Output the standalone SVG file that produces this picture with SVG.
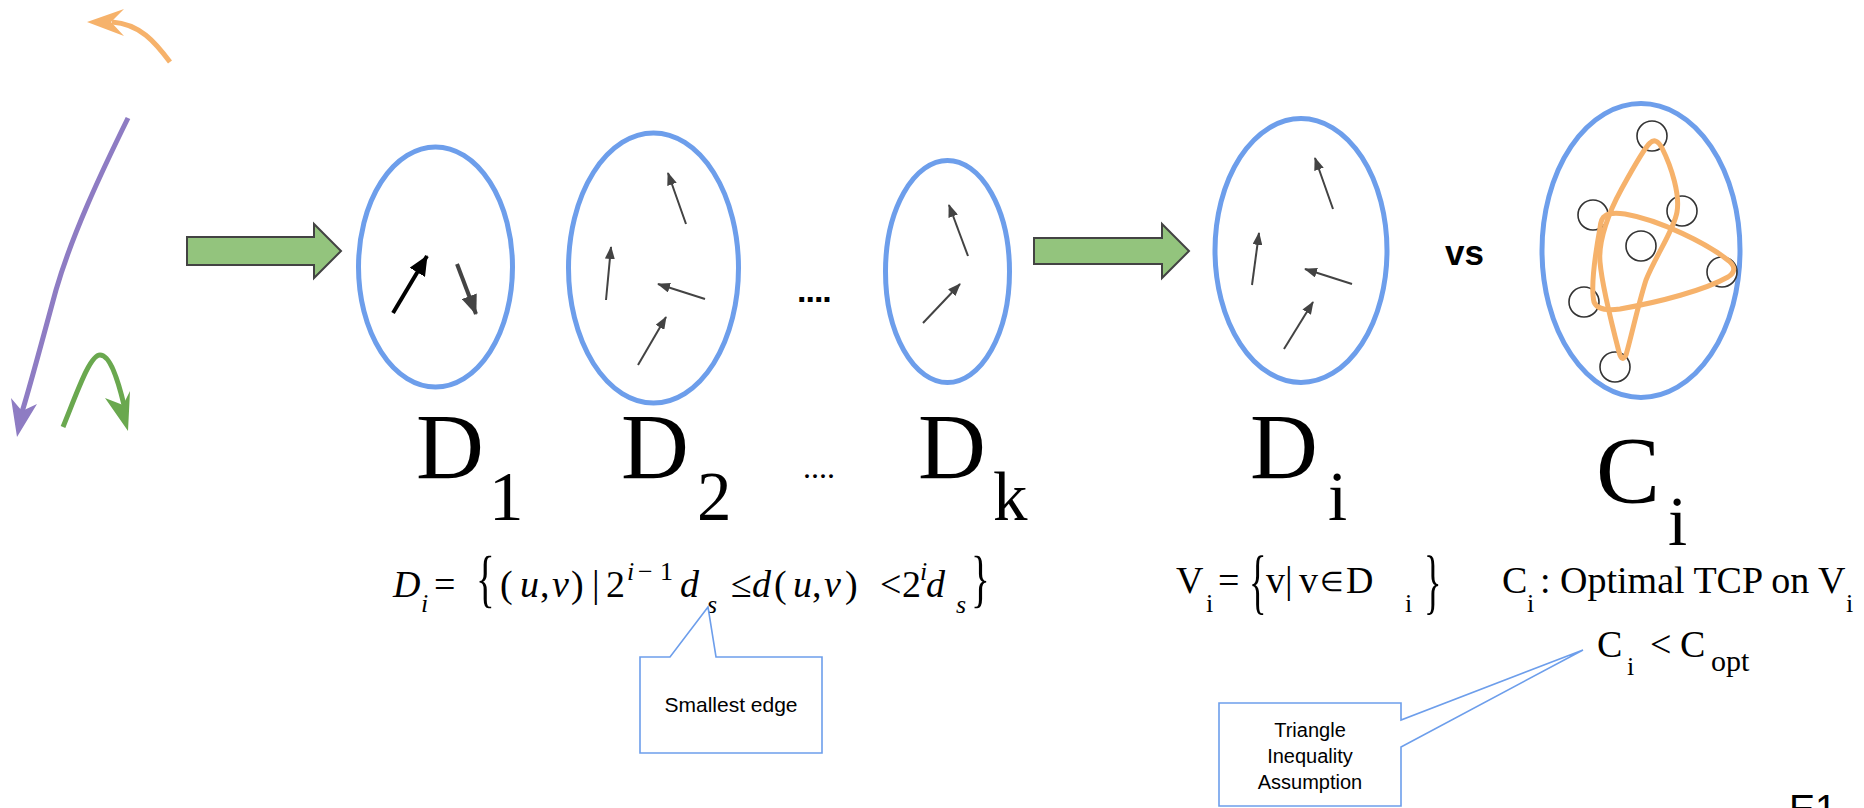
<svg xmlns="http://www.w3.org/2000/svg" width="1864" height="808" viewBox="0 0 1864 808">
<style>
.ell{fill:none;stroke:#6d9eeb;stroke-width:5}
.blk{fill:#93c47d;stroke:#434343;stroke-width:2;stroke-linejoin:miter}
.ar{stroke:#434343;stroke-width:2;fill:none;marker-end:url(#ah)}
.arb{stroke-width:4;fill:none}
.node{fill:none;stroke:#333;stroke-width:1.6}
.tour{fill:none;stroke:#f6b26b;stroke-width:5;stroke-linejoin:round}
.ser{font-family:"Liberation Serif","Times New Roman",serif;fill:#000}
.big{font-size:94px}
.sub{font-size:69px}
.m{font-size:38px}
.s{font-size:26px}
.it{font-style:italic}
.sans{font-family:"Liberation Sans",Arial,sans-serif;fill:#000}
.call{fill:#fff;stroke:#6d9eeb;stroke-width:1.6}
</style>
<defs>
<marker id="ah" markerUnits="userSpaceOnUse" markerWidth="13" markerHeight="10" refX="12" refY="5" orient="auto"><path d="M0,0 L13,5 L0,10 Z" fill="#434343"/></marker>
<marker id="ahk" markerUnits="userSpaceOnUse" markerWidth="20" markerHeight="18" refX="19" refY="9" orient="auto"><path d="M0,0 L20,9 L0,18 Z" fill="#000"/></marker>
<marker id="ahg" markerUnits="userSpaceOnUse" markerWidth="20" markerHeight="16" refX="19" refY="8" orient="auto"><path d="M0,0 L20,8 L0,16 Z" fill="#434343"/></marker>
</defs>
<rect width="1864" height="808" fill="#fff"/>

<g id="scribbles">
<path d="M170,62 C155,42 140,24 112,22" fill="none" stroke="#f6b26b" stroke-width="5"/>
<polygon points="87,22 124,9 111,22 124,36" fill="#f6b26b"/>
<path d="M128,118 C100,175 72,235 56,290 C41,345 29,390 22,412" fill="none" stroke="#8e7cc3" stroke-width="5"/>
<polygon points="17,437 11,398 22,411 37,404" fill="#8e7cc3"/>
<path d="M63,427 C78,390 90,355 100,355 C110,355 118,380 124,405" fill="none" stroke="#6aa84f" stroke-width="5"/>
<polygon points="128,431 105,398 123,405 130,391" fill="#6aa84f"/>
</g>

<g id="D1">
<ellipse class="ell" cx="435.5" cy="267" rx="77" ry="120"/>
<line x1="393" y1="313" x2="427" y2="256" class="arb" stroke="#000" marker-end="url(#ahk)"/>
<line x1="457" y1="264" x2="476" y2="314" class="arb" stroke="#434343" marker-end="url(#ahg)"/>
<text class="ser big" x="416" y="478">D</text>
<text class="ser sub" x="489" y="520">1</text>
</g>

<g id="D2">
<ellipse class="ell" cx="653.5" cy="268" rx="85" ry="135"/>
<line class="ar" x1="606" y1="300" x2="611" y2="247"/>
<line class="ar" x1="686" y1="224" x2="668" y2="173"/>
<line class="ar" x1="705" y1="299" x2="658" y2="284"/>
<line class="ar" x1="638" y1="365" x2="666" y2="317"/>
<text class="ser big" x="621" y="478">D</text>
<text class="ser sub" x="697" y="520">2</text>
</g>

<g id="ellipsis">
<text class="sans" x="797" y="302" font-size="34" font-weight="bold" letter-spacing="-1">....</text>
<text class="ser" x="803" y="478" font-size="32">....</text>
</g>

<g id="Dk">
<ellipse class="ell" cx="947.5" cy="271.5" rx="62" ry="111"/>
<line class="ar" x1="968" y1="256" x2="949" y2="205"/>
<line class="ar" x1="923" y1="323" x2="960" y2="284"/>
<text class="ser big" x="918" y="478">D</text>
<text class="ser sub" x="993" y="520">k</text>
</g>

<g id="Di">
<ellipse class="ell" cx="1301" cy="250.5" rx="86" ry="132"/>
<line class="ar" x1="1333" y1="209" x2="1315" y2="158"/>
<line class="ar" x1="1252" y1="285" x2="1259" y2="233"/>
<line class="ar" x1="1352" y1="284" x2="1305" y2="269"/>
<line class="ar" x1="1284" y1="349" x2="1313" y2="302"/>
<text class="ser big" x="1250" y="478">D</text>
<text class="ser sub" x="1328" y="520">i</text>
</g>

<g id="vs">
<text class="sans" x="1445" y="265" font-size="35" font-weight="bold">vs</text>
</g>

<g id="Ci">
<ellipse class="ell" cx="1641" cy="250.5" rx="99" ry="147"/>
<circle class="node" cx="1652" cy="136" r="15"/>
<circle class="node" cx="1593" cy="215" r="15"/>
<circle class="node" cx="1682" cy="211" r="15"/>
<circle class="node" cx="1641" cy="246" r="15"/>
<circle class="node" cx="1722" cy="272" r="15"/>
<circle class="node" cx="1584" cy="302" r="15"/>
<circle class="node" cx="1615" cy="367" r="15"/>
<path class="tour" d="M1650,143 Q1656,137 1662,148 C1672,168 1680,195 1677,212 C1674,230 1656,255 1646,280 C1638,305 1631,338 1626,355 Q1622,363 1619,352 C1612,325 1602,285 1600,262 C1598,240 1610,210 1621,190 C1632,170 1644,148 1650,143 Z"/>
<path class="tour" d="M1605,216 Q1610,212 1625,214 C1660,220 1708,244 1729,261 Q1739,270 1728,277 C1705,290 1660,302 1620,309 Q1598,312 1594,302 C1590,285 1596,250 1600,228 Q1601,218 1605,216 Z"/>
<text class="ser" x="1596" y="503" font-size="96">C</text>
<text class="ser sub" x="1668" y="545">i</text>
</g>

<g id="connectors">
<path class="blk" d="M187,237 L314,237 L314,224 L341,251 L314,278 L314,265 L187,265 Z"/>
<path class="blk" d="M1034,238 L1162,238 L1162,224 L1189,251 L1162,278 L1162,264 L1034,264 Z"/>
</g>

<g id="formula-Di">
<text class="ser m">
<tspan class="it" x="393" y="597">D</tspan><tspan class="s it" x="421" y="612">i</tspan><tspan x="434" y="597">=</tspan><tspan x="500" y="597">(</tspan><tspan class="it" x="520" y="597">u</tspan><tspan x="540" y="597">,</tspan><tspan class="it" x="552" y="597">v</tspan><tspan x="571" y="597">)</tspan><tspan x="592" y="597">|</tspan><tspan x="606" y="597">2</tspan><tspan class="s it" x="627" y="580">i</tspan><tspan class="s" x="638" y="580">−</tspan><tspan class="s" x="660" y="580">1</tspan><tspan class="it" x="680" y="597">d</tspan><tspan class="s it" x="707" y="613">s</tspan><tspan x="731" y="597">≤</tspan><tspan class="it" x="752" y="597">d</tspan><tspan x="774" y="597">(</tspan><tspan class="it" x="793" y="597">u</tspan><tspan x="812" y="597">,</tspan><tspan class="it" x="824" y="597">v</tspan><tspan x="845" y="597">)</tspan><tspan x="880" y="597">&lt;</tspan><tspan x="902" y="597">2</tspan><tspan class="s it" x="920" y="580">i</tspan><tspan class="it" x="926" y="597">d</tspan><tspan class="s it" x="956" y="613">s</tspan>
</text>
<text class="ser" font-size="52" transform="translate(476,600) scale(0.75,1.2)">{</text>
<text class="ser" font-size="52" transform="translate(971,600) scale(0.75,1.2)">}</text>
</g>

<g id="formula-Vi">
<text class="ser m">
<tspan x="1176" y="593">V</tspan><tspan class="s" x="1206" y="612">i</tspan><tspan x="1218" y="593">=</tspan><tspan x="1266" y="593">v</tspan><tspan x="1285" y="593">|</tspan><tspan x="1299" y="593">v</tspan><tspan x="1320" y="591" font-size="27">∈</tspan><tspan x="1346" y="593">D</tspan><tspan class="s" x="1405" y="612">i</tspan>
</text>
<text class="ser" font-size="56" transform="translate(1249,605) scale(0.65,1.3)">{</text>
<text class="ser" font-size="56" transform="translate(1424,605) scale(0.65,1.3)">}</text>
</g>

<g id="formula-Ci">
<text class="ser m">
<tspan x="1502" y="593">C</tspan><tspan class="s" x="1527" y="612">i</tspan><tspan x="1540" y="593">: Optimal TCP on V</tspan><tspan class="s" x="1846" y="612">i</tspan>
</text>
</g>

<g id="formula-Copt">
<text class="ser m">
<tspan x="1597" y="657">C</tspan><tspan class="s" x="1627" y="675">i</tspan><tspan x="1650" y="657">&lt;</tspan><tspan x="1680" y="657">C</tspan><tspan x="1711" y="671" font-size="30">opt</tspan>
</text>
</g>

<g id="callout-smallest">
<path class="call" d="M640,657 L670,657 L708,607 L716,657 L822,657 L822,753 L640,753 Z"/>
<text class="sans" x="731" y="712" font-size="21" text-anchor="middle">Smallest edge</text>
</g>

<g id="callout-triangle">
<path class="call" d="M1219,703 L1401,703 L1401,720 L1583,650 L1401,747 L1401,806 L1219,806 Z"/>
<text class="sans" font-size="20" text-anchor="middle"><tspan x="1310" y="737">Triangle</tspan><tspan x="1310" y="763">Inequality</tspan><tspan x="1310" y="789">Assumption</tspan></text>
</g>

<g id="page-number">
<text class="sans" x="1789" y="822" font-size="39">E1</text>
</g>
</svg>
